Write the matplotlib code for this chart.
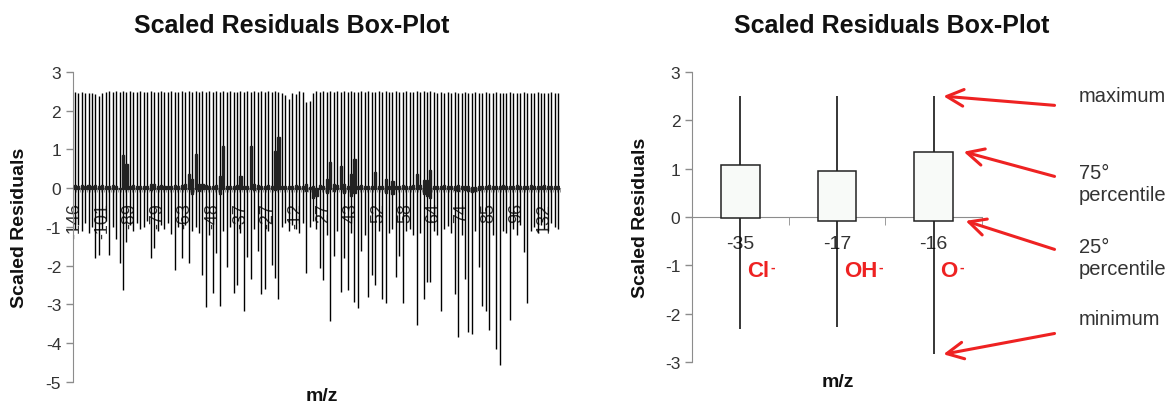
import matplotlib.pyplot as plt
import numpy as np

plt.rcParams['font.family'] = ['Liberation Sans', 'DejaVu Sans']
plt.rcParams['axes.unicode_minus'] = False

# left chart: one high-low line + box per m/z channel
mz_labels = ["-146", "-101", "-89", "-79", "-63", "-48", "-37", "-27", "-12",
             "27", "43", "52", "58", "64", "74", "85", "96", "132"]
label_step = 8

whisker_hi = [
    2.48, 2.47, 2.48, 2.47, 2.45, 2.46, 2.44, 2.38, 2.46, 2.49,
    2.50, 2.49, 2.50, 2.48, 2.50, 2.49, 2.50, 2.48, 2.49, 2.50,
    2.48, 2.49, 2.50, 2.49, 2.48, 2.50, 2.49, 2.48, 2.50, 2.49,
    2.48, 2.50, 2.49, 2.50, 2.48, 2.50, 2.49, 2.50, 2.48, 2.50,
    2.49, 2.50, 2.48, 2.50, 2.49, 2.50, 2.48, 2.49, 2.50, 2.49,
    2.50, 2.49, 2.50, 2.48, 2.50, 2.49, 2.50, 2.48, 2.50, 2.49,
    2.47, 2.40, 2.30, 2.46, 2.43, 2.50, 2.48, 2.22, 2.25, 2.46,
    2.50, 2.49, 2.50, 2.48, 2.50, 2.49, 2.50, 2.48, 2.50, 2.49,
    2.50, 2.49, 2.48, 2.50, 2.49, 2.50, 2.48, 2.49, 2.50, 2.49,
    2.50, 2.48, 2.49, 2.50, 2.48, 2.49, 2.50, 2.49, 2.48, 2.50,
    2.49, 2.50, 2.48, 2.50, 2.49, 2.47, 2.48, 2.46, 2.48, 2.47,
    2.48, 2.46, 2.47, 2.48, 2.46, 2.47, 2.48, 2.46, 2.47, 2.48,
    2.46, 2.47, 2.48, 2.46, 2.47, 2.46, 2.48, 2.47, 2.46, 2.47,
    2.48, 2.46, 2.47, 2.46, 2.48, 2.47, 2.46, 2.47, 2.48, 2.46,
    2.47,
]
box_hi = [
    0.08, 0.07, 0.08, 0.06, 0.08, 0.07, 0.08, 0.06, 0.08, 0.07,
    0.05, 0.08, 0.07, 0.01, 0.85, 0.62, 0.06, 0.08, 0.05, 0.07,
    0.06, 0.07, 0.12, 0.10, 0.06, 0.08, 0.05, 0.07, 0.06, 0.08,
    0.07, 0.08, 0.10, 0.36, 0.23, 0.88, 0.12, 0.10, 0.08, 0.07,
    0.06, 0.08, 0.32, 1.08, 0.05, 0.07, 0.06, 0.08, 0.32, 0.07,
    0.06, 1.08, 0.10, 0.08, 0.07, 0.06, 0.08, 0.05, 0.95, 1.33,
    0.06, 0.07, 0.05, 0.06, 0.08, 0.07, 0.06, 0.10, 0.04, 0.05,
    0.00, 0.08, 0.06, 0.23, 0.67, 0.10, 0.08, 0.58, 0.10, 0.06,
    0.36, 0.75, 0.05, 0.08, 0.06, 0.07, 0.05, 0.41, 0.06, 0.06,
    0.23, 0.07, 0.18, 0.06, 0.05, 0.08, 0.07, 0.06, 0.08, 0.36,
    0.08, 0.21, 0.21, 0.47, 0.06, 0.07, 0.05, 0.08, 0.06, 0.07,
    0.05, 0.08, 0.06, 0.07, 0.05, 0.02, 0.03, 0.06, 0.07, 0.05,
    0.08, 0.06, 0.07, 0.05, 0.08, 0.06, 0.07, 0.05, 0.08, 0.06,
    0.07, 0.05, 0.08, 0.06, 0.07, 0.05, 0.08, 0.06, 0.07, 0.05,
    0.06,
]
box_lo = [
    -0.03, -0.03, -0.02, -0.03, -0.03, -0.02, -0.03, -0.03, -0.02, -0.03,
    -0.03, -0.02, -0.03, -0.02, -0.03, -0.03, -0.02, -0.03, -0.03, -0.02,
    -0.03, -0.03, -0.05, -0.03, -0.02, -0.03, -0.03, -0.02, -0.03, -0.03,
    -0.02, -0.03, -0.03, -0.03, -0.15, -0.03, -0.06, -0.03, -0.02, -0.03,
    -0.03, -0.02, -0.15, -0.03, -0.03, -0.02, -0.03, -0.03, -0.03, -0.02,
    -0.03, -0.03, -0.05, -0.03, -0.02, -0.03, -0.03, -0.02, -0.05, -0.03,
    -0.03, -0.02, -0.03, -0.03, -0.02, -0.03, -0.03, -0.06, -0.03, -0.25,
    -0.20, -0.03, -0.03, -0.11, -0.03, -0.06, -0.03, -0.03, -0.11, -0.03,
    -0.20, -0.12, -0.03, -0.02, -0.03, -0.03, -0.02, -0.03, -0.03, -0.03,
    -0.11, -0.03, -0.15, -0.03, -0.03, -0.02, -0.03, -0.03, -0.02, -0.03,
    -0.03, -0.15, -0.20, -0.25, -0.03, -0.03, -0.02, -0.03, -0.03, -0.02,
    -0.04, -0.06, -0.03, -0.05, -0.08, -0.10, -0.08, -0.04, -0.03, -0.02,
    -0.03, -0.03, -0.02, -0.03, -0.03, -0.02, -0.03, -0.03, -0.02, -0.03,
    -0.03, -0.02, -0.03, -0.03, -0.02, -0.03, -0.03, -0.02, -0.03, -0.03,
    -0.02,
]
whisker_lo = [
    -1.05, -0.95, -1.10, -0.90, -1.15, -1.00, -1.81, -1.72, -1.05, -0.85,
    -1.72, -1.00, -1.32, -1.92, -2.63, -1.40, -0.95, -1.10, -0.90, -1.05,
    -1.00, -0.85, -1.81, -1.53, -1.10, -0.95, -1.05, -0.90, -1.19, -2.12,
    -1.00, -1.81, -0.95, -1.92, -1.10, -1.00, -1.15, -2.25, -3.07, -1.20,
    -2.71, -1.68, -3.04, -1.10, -2.04, -1.00, -2.71, -2.50, -1.15, -3.17,
    -1.78, -2.35, -1.05, -1.62, -2.74, -2.60, -1.10, -1.98, -2.31, -2.87,
    -1.00, -0.90, -1.10, -0.95, -1.05, -1.15, -0.90, -2.19, -1.00, -0.85,
    -1.06, -2.06, -2.37, -1.20, -3.42, -1.75, -1.10, -2.68, -1.81, -2.63,
    -1.15, -2.93, -3.10, -1.62, -1.20, -2.80, -2.25, -2.50, -1.10, -2.87,
    -2.97, -1.15, -1.05, -2.30, -1.75, -2.97, -1.10, -1.06, -1.20, -3.54,
    -1.15, -2.87, -2.43, -2.43, -1.10, -1.20, -3.17, -1.05, -0.97, -1.15,
    -2.74, -3.85, -1.20, -2.35, -3.72, -3.76, -1.10, -2.04, -3.04, -3.17,
    -3.66, -1.20, -4.15, -4.56, -1.10, -1.15, -3.40, -1.05, -1.20, -0.95,
    -1.65, -2.97, -1.10, -1.00, -1.15, -0.95, -1.05, -1.10, -0.90, -1.00,
    -1.05,
]

# right chart: the three ions
ion_mz = ["-35", "-17", "-16"]
ion_names = ["Cl", "OH", "O"]
ion_hi = [2.50, 2.50, 2.50]
ion_q3 = [1.08, 0.95, 1.35]
ion_q1 = [-0.03, -0.08, -0.08]
ion_lo = [-2.31, -2.27, -2.84]
stat_names = ["maximum", "75°\npercentile", "25°\npercentile", "minimum"]

axis_grey = "#8c8c8c"
text_grey = "#333333"
red = "#ee2222"
box_face = "#f8faf8"
box_edge = "#222222"

fig = plt.figure(figsize=(11.73, 4.06), dpi=100)
ax1 = fig.add_axes([0.0622, 0.0567, 0.4152, 0.7635])
ax2 = fig.add_axes([0.590, 0.1059, 0.2472, 0.7143])


def style_axes(ax):
    for side in ("top", "right"):
        ax.spines[side].set_visible(False)
    ax.spines["left"].set_color(axis_grey)
    ax.spines["bottom"].set_color(axis_grey)
    ax.spines["bottom"].set_position(("data", 0))
    ax.tick_params(axis="y", colors=axis_grey, labelcolor=text_grey,
                   labelsize=12.5, length=5, width=1, direction="out")
    ax.set_ylabel("Scaled Residuals", fontsize=14, fontweight="bold",
                  color="#111111")


# left chart (boxes are so narrow they read as solid bars)
n = len(whisker_hi)
pos = np.arange(n)
ax1.vlines(pos, whisker_lo, whisker_hi, color="black", lw=1.0, zorder=2)
ax1.bar(pos, np.subtract(box_hi, box_lo), bottom=box_lo, width=0.6,
        facecolor=box_edge, edgecolor=box_edge, linewidth=1.0, zorder=3)
ax1.set_xlim(-0.5, n - 0.5)
ax1.set_ylim(-5, 3)
ax1.set_yticks(range(-5, 4))
style_axes(ax1)
ax1.set_xticks(pos[::label_step][:len(mz_labels)])
ax1.set_xticklabels(mz_labels, rotation=90, fontsize=13, color=text_grey,
                    va="top", ha="center")
ax1.set_xticks(np.arange(n + 1) - 0.5, minor=True)
ax1.tick_params(axis="x", which="major", length=0, pad=10)
ax1.tick_params(axis="x", which="minor", length=3, color=axis_grey)
ax1.yaxis.set_label_coords(-0.092, 0.5)
ax1.text(0.511, -0.045, "m/z", transform=ax1.transAxes, ha="center",
         va="center", fontsize=14, fontweight="bold", color="#111111")

# right chart
ipos = np.arange(len(ion_mz))
ax2.vlines(ipos, ion_lo, ion_hi, color="black", lw=1.1, zorder=2)
ax2.bar(ipos, np.subtract(ion_q3, ion_q1), bottom=ion_q1, width=0.4,
        facecolor=box_face, edgecolor=box_edge, linewidth=1.1, zorder=3)
ax2.set_xlim(-0.5, len(ion_mz) - 0.5)
ax2.set_ylim(-3, 3)
ax2.set_yticks(range(-3, 4))
style_axes(ax2)
ax2.set_xticks(ipos)
ax2.set_xticklabels(ion_mz, fontsize=14, color=text_grey)
ax2.set_xticks(np.arange(1, len(ion_mz) + 1) - 0.5, minor=True)
ax2.tick_params(axis="x", which="major", length=0, pad=13)
ax2.tick_params(axis="x", which="minor", length=6, color=axis_grey)
ax2.yaxis.set_label_coords(-0.15, 0.5)
ax2.text(0.503, -0.066, "m/z", transform=ax2.transAxes, ha="center",
         va="center", fontsize=14, fontweight="bold", color="#111111")

# ion names in red with a small superscript minus
for x, name in zip(ipos, ion_names):
    t = ax2.text(x + 0.07, -1.11, name, color=red, fontsize=16,
                 fontweight="bold", ha="left", va="center")
    ax2.annotate("-", xy=(1.0, 1.0), xycoords=t, xytext=(1, 0),
                 textcoords="offset points", color=red, fontsize=10,
                 fontweight="bold", ha="left", va="top")

# arrows pointing at the box of the last ion
last = len(ion_mz) - 1
tips = [ion_hi[last], ion_q3[last], ion_q1[last], ion_lo[last]]
tip_dx = [0.10, 0.31, 0.33, 0.10]
tail_y = [2.31, 0.84, -0.67, -2.41]
text_y = [2.52, 0.70, -0.83, -2.10]
for name, ty, dx, sy, ly in zip(stat_names, tips, tip_dx, tail_y, text_y):
    ax2.annotate("", xy=(last + dx, ty), xytext=(last + 1.25, sy),
                 annotation_clip=False,
                 arrowprops=dict(arrowstyle="->,head_length=1.2,head_width=0.6",
                                 color=red, lw=2.2, shrinkA=0, shrinkB=0))
    ax2.text(last + 1.5, ly, name, fontsize=14.5, color=text_grey,
             ha="left", va="center", linespacing=1.2, clip_on=False)

fig.text(292 / 1173, 0.935, "Scaled Residuals Box-Plot", ha="center",
         va="center", fontsize=18, fontweight="bold", color="#111111")
fig.text(892 / 1173, 0.935, "Scaled Residuals Box-Plot", ha="center",
         va="center", fontsize=18, fontweight="bold", color="#111111")

fig.savefig("out.png", dpi=100)
